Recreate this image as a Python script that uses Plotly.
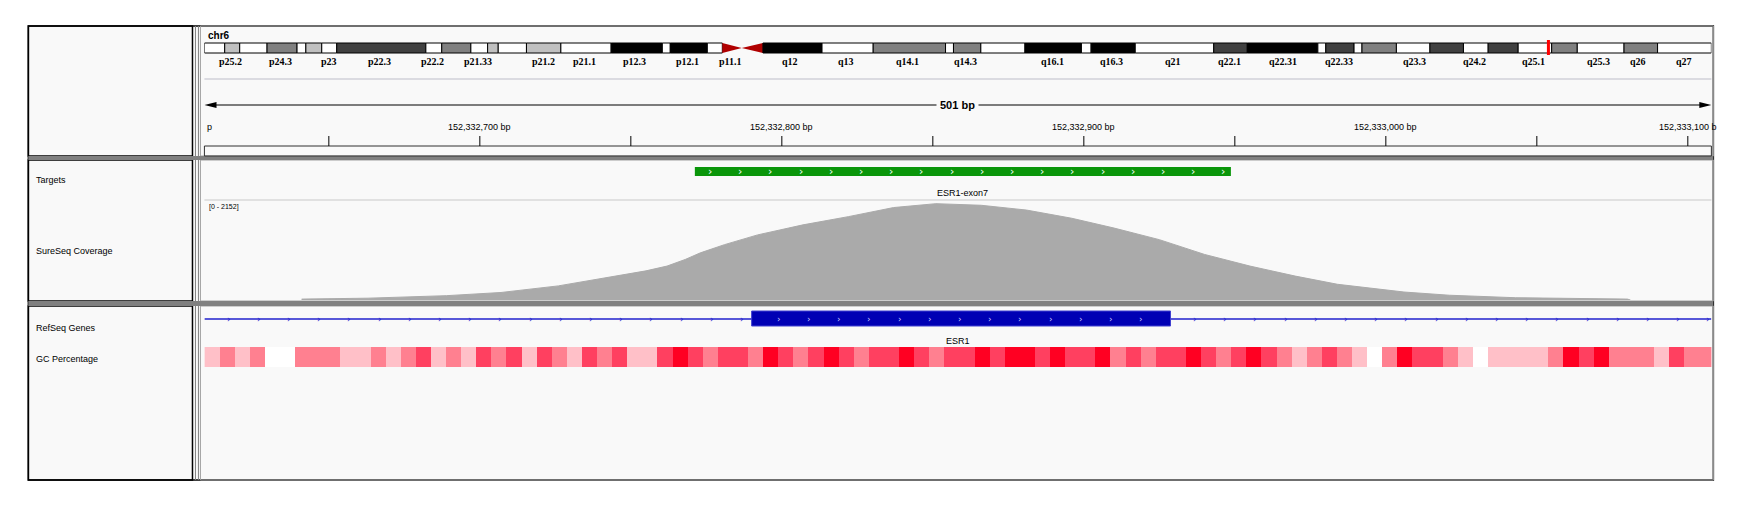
import plotly.graph_objects as go

# ---------------- data ----------------
chrom = "chr6"
view_start, view_end = 152332608.8, 152333107.8
tick_bp = [152332700, 152332800, 152332900, 152333000, 152333100]
tick_labels = ["152,332,700 bp", "152,332,800 bp", "152,332,900 bp", "152,333,000 bp", "152,333,100 b"]
minor_ticks = [152332650, 152332750, 152332850, 152332950, 152333050]

band_edges = [0, 2.3, 4.0, 7.1, 10.5, 11.5, 13.3, 15.0, 25.1, 26.9, 30.2, 32.1, 33.3, 36.5, 40.4, 46.1,
              51.9, 52.8, 57.0, 58.7, 60.9, 63.3, 70.0, 75.8, 84.0, 84.9, 88.0, 93.0, 99.4, 100.5, 105.5,
              114.4, 118.2, 126.2, 127.1, 130.3, 131.2, 135.1, 138.9, 142.7, 145.5, 148.9, 152.7, 155.6,
              160.9, 164.7, 170.8]
band_stain = ["w", "l", "w", "g", "w", "l", "w", "d", "w", "g", "w", "l", "w", "l", "w", "b",
              "w", "b", "w", "acenR", "acenL", "b", "w", "g", "w", "g", "w", "b", "w", "b",
              "w", "d", "b", "w", "d", "w", "g", "w", "d", "w", "d", "w", "g", "w", "g", "w"]
band_names = ["p25.2", "p24.3", "p23", "p22.3", "p22.2", "p21.33", "p21.2", "p21.1", "p12.3", "p12.1",
              "p11.1", "q12", "q13", "q14.1", "q14.3", "q16.1", "q16.3", "q21", "q22.1", "q22.31",
              "q22.33", "q23.3", "q24.2", "q25.1", "q25.3", "q26", "q27"]
band_label_mb = [3.0, 8.6, 14.1, 19.9, 25.8, 31.0, 38.4, 43.1, 48.8, 54.7, 59.6, 66.4, 72.7, 79.7,
                 86.3, 96.1, 102.8, 109.8, 116.2, 122.2, 128.6, 137.1, 144.0, 150.6, 158.0, 162.5, 167.7]
current_mb = 152.33

target_name = "ESR1-exon7"
target_start, target_end = 152332771.2, 152332948.7
gene_name = "ESR1"
exon_start, exon_end = 152332790.0, 152332928.7
coverage_max = 2152

cov_pos = [152332641, 152332663, 152332689, 152332707, 152332726, 152332744, 152332755, 152332762,
           152332768, 152332773, 152332781, 152332792, 152332807, 152332822, 152332837, 152332851,
           152332866, 152332881, 152332896, 152332910, 152332925, 152332940, 152332955, 152332970,
           152332984, 152333006, 152333021, 152333043, 152333080, 152333081]
cov_val = [20, 40, 95, 165, 310, 510, 640, 745, 890, 1035, 1215, 1430, 1650, 1830, 2030, 2115,
           2080, 1975, 1795, 1580, 1325, 1000, 745, 525, 345, 175, 105, 50, 20, 0]

gc_levels = [1, 2, 1, 2, 0, 0, 2, 2, 2, 1,
             1, 2, 1, 2, 3, 1, 2, 1, 3, 2,
             3, 1, 3, 2, 1, 3, 2, 3, 1, 1,
             3, 4, 3, 2, 3, 3, 2, 4, 3, 2,
             3, 4, 3, 2, 3, 3, 4, 3, 2, 3,
             3, 4, 3, 4, 4, 3, 4, 3, 3, 4,
             2, 3, 2, 3, 3, 4, 3, 2, 3, 4,
             3, 2, 1, 2, 3, 2, 1, 0, 2, 4,
             3, 3, 2, 1, 0, 1, 1, 1, 1, 2,
             4, 3, 4, 2, 2, 2, 1, 3, 2, 2]
gc_window = 5

# ---------------- layout helpers ----------------
W, H = 1748, 509
YOFF = 9
def X(x):
    return x * 0.9947 - 7.5
XL, XR = X(205), X(1720)
stain_col = {"w": "#ffffff", "l": "#c0c0c0", "g": "#808080", "d": "#404040", "b": "#000000"}

fig = go.Figure()
shapes, ann = [], []

def prect(x0, y0, x1, y1, fill=None, line="black", lw=1):
    shapes.append(dict(type="rect", xref="paper", yref="y", x0=X(x0) / W, x1=X(x1) / W, y0=y0, y1=y1,
                       fillcolor=fill, line=dict(color=line, width=lw), layer="below"))

def pline(x0, y0, x1, y1, col="black", lw=1):
    shapes.append(dict(type="line", xref="paper", yref="y", x0=X(x0) / W, x1=X(x1) / W, y0=y0, y1=y1,
                       line=dict(color=col, width=lw)))

def ptext(x, y, t, size=9, anchor="left", bold=False, fam="Liberation Sans", col="black"):
    ann.append(dict(xref="paper", yref="y", x=X(x) / W, y=y,
                    text=("<b>%s</b>" % t) if bold else t, showarrow=False, xanchor=anchor,
                    yanchor="middle", font=dict(size=size, family=fam, color=col)))

# background & frame
prect(28, 27, 1722, 481, fill="#f9f9f9", line="black", lw=1.5)
for (y0, y1) in [(27, 157), (161, 302), (307, 481)]:
    prect(28, y0, 193, y1, line="black", lw=1.5)
    prect(201, y0, 1722, y1, line="#a0a0a0", lw=1)
pline(196, 27, 196, 481, "#808080", 1)
pline(199, 27, 199, 481, "#808080", 1)
prect(28, 157, 1722, 161, fill="#808080", line="#808080", lw=0)
prect(28, 302, 1722, 307, fill="#808080", line="#808080", lw=0)
pline(205, 80, 1720, 80, "#d0d0d8", 1.5)
pline(205, 201, 1720, 201, "#d8d8d8", 1.5)
prect(205, 147, 1720, 157, line="#303030", lw=1)

# left labels
ptext(34, 181, "Targets", 9)
ptext(34, 252, "SureSeq Coverage", 9)
ptext(34, 329, "RefSeq Genes", 9)
ptext(34, 360, "GC Percentage", 9)

# ideogram (xaxis2: Mb)
ptext(207, 36, chrom, 10, bold=True)
for i, st in enumerate(band_stain):
    a, b = band_edges[i], band_edges[i + 1]
    if st == "acenR":
        shapes.append(dict(type="path", xref="x2", yref="y", path=f"M {a},44 L {b},49 L {a},54 Z",
                           fillcolor="#b00000", line=dict(color="#b00000", width=0)))
    elif st == "acenL":
        shapes.append(dict(type="path", xref="x2", yref="y", path=f"M {b},44 L {a},49 L {b},54 Z",
                           fillcolor="#b00000", line=dict(color="#b00000", width=0)))
    else:
        shapes.append(dict(type="rect", xref="x2", yref="y", x0=a, x1=b, y0=44, y1=54,
                           fillcolor=stain_col[st], line=dict(color="black", width=1)))
shapes.append(dict(type="line", xref="x2", yref="y", x0=current_mb, x1=current_mb, y0=41, y1=56,
                   line=dict(color="red", width=3)))
for nm, mb in zip(band_names, band_label_mb):
    ann.append(dict(xref="x2", yref="y", x=mb, y=62, text="<b>%s</b>" % nm, showarrow=False,
                    font=dict(size=10, family="Liberation Serif", color="black")))

# ruler (bp axis)
shapes.append(dict(type="line", xref="x", yref="y", x0=view_start + 2, x1=view_end - 2, y0=106, y1=106,
                   line=dict(color="black", width=1.2)))
for xa, xb in [(view_start, view_start + 4), (view_end, view_end - 4)]:
    shapes.append(dict(type="path", xref="x", yref="y", path=f"M {xa},106 L {xb},103 L {xb},109 Z",
                       fillcolor="black", line=dict(width=0)))
ann.append(dict(xref="x", yref="y", x=(view_start + view_end) / 2, y=106, text="<b>501 bp</b>",
                showarrow=False, bgcolor="#f9f9f9", borderpad=3,
                font=dict(size=11, family="Liberation Sans", color="black")))
for bp, lab in zip(tick_bp, tick_labels):
    ann.append(dict(xref="x", yref="y", x=bp, y=128, text=lab, showarrow=False,
                    font=dict(size=9, family="Liberation Sans", color="black")))
for bp in tick_bp + minor_ticks:
    shapes.append(dict(type="line", xref="x", yref="y", x0=bp, x1=bp, y0=137, y1=147,
                       line=dict(color="black", width=1)))
ann.append(dict(xref="x", yref="y", x=view_start + 0.3, y=128, text="p", showarrow=False, xanchor="left",
                font=dict(size=9, family="Liberation Sans", color="black")))

# target
shapes.append(dict(type="rect", xref="x", yref="y", x0=target_start, x1=target_end, y0=168, y1=177,
                   fillcolor="#0a960a", line=dict(color="#0a960a", width=0)))
chev = target_start + 5
while chev < target_end - 2:
    ann.append(dict(xref="x", yref="y", x=chev, y=172.5, text="›", showarrow=False,
                    font=dict(size=11, color="white", family="DejaVu Sans")))
    chev += 10
ann.append(dict(xref="x", yref="y", x=(target_start + target_end) / 2, y=194, text=target_name,
                showarrow=False, font=dict(size=9, family="Liberation Sans", color="black")))
ptext(208, 208, "[0 - %d]" % coverage_max, 7)

# coverage
fig.add_trace(go.Scatter(x=cov_pos, y=cov_val, xaxis="x", yaxis="y2", mode="lines", fill="tozeroy",
                         line=dict(color="#aaaaaa", width=1, shape="linear"),
                         fillcolor="#aaaaaa", hoverinfo="skip"))

# gene
shapes.append(dict(type="line", xref="x", yref="y", x0=view_start, x1=view_end, y0=320, y1=320,
                   line=dict(color="#2020cc", width=1.5)))
p = view_start + 8
while p < view_end:
    if not (exon_start - 2 < p < exon_end + 2):
        ann.append(dict(xref="x", yref="y", x=p, y=320, text="›", showarrow=False,
                        font=dict(size=9, color="#2020cc", family="DejaVu Sans")))
    p += 10
shapes.append(dict(type="rect", xref="x", yref="y", x0=exon_start, x1=exon_end, y0=312, y1=327,
                   fillcolor="#0000b4", line=dict(color="#4040d0", width=1)))
p = exon_start + 9
while p < exon_end - 2:
    ann.append(dict(xref="x", yref="y", x=p, y=319.5, text="›", showarrow=False,
                    font=dict(size=9, color="#c8c8ff", family="DejaVu Sans")))
    p += 10
ann.append(dict(xref="x", yref="y", x=(view_start + view_end) / 2, y=342, text=gene_name,
                showarrow=False, font=dict(size=9, family="Liberation Sans", color="black")))

# GC heatmap
gc_edges = [view_start + i * gc_window for i in range(len(gc_levels) + 1)]
fig.add_trace(go.Heatmap(x=gc_edges, y=[348, 368], z=[gc_levels], xaxis="x", yaxis="y",
                         zmin=0, zmax=4, showscale=False, hoverinfo="skip",
                         colorscale=[[0, "#ffffff"], [0.2, "#ffffff"], [0.2, "#ffc0c8"], [0.4, "#ffc0c8"],
                                     [0.4, "#ff8090"], [0.6, "#ff8090"], [0.6, "#ff4060"], [0.8, "#ff4060"],
                                     [0.8, "#ff0022"], [1, "#ff0022"]]))

fig.update_layout(
    width=W, height=H, margin=dict(l=0, r=0, t=0, b=0),
    paper_bgcolor="white", plot_bgcolor="rgba(0,0,0,0)", showlegend=False,
    xaxis=dict(domain=[XL / W, XR / W], range=[view_start, view_end], visible=False, fixedrange=True),
    xaxis2=dict(domain=[XL / W, XR / W], range=[0, 170.8], visible=False, overlaying="x"),
    yaxis=dict(domain=[0, 1], range=[H + YOFF, YOFF], visible=False),
    yaxis2=dict(domain=[1 - (301 - YOFF) / H, 1 - (203 - YOFF) / H], range=[0, coverage_max], visible=False),
    shapes=shapes, annotations=ann,
)
fig.write_html("out.html")
